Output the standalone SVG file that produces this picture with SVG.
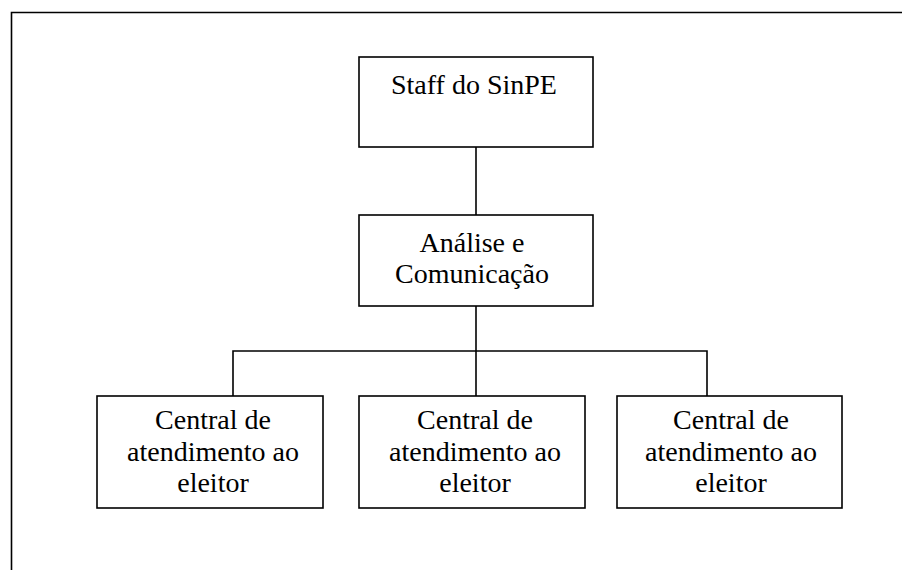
<svg xmlns="http://www.w3.org/2000/svg" width="902" height="570" viewBox="0 0 902 570">
<style>
.box{fill:#fff;stroke:#000;stroke-width:1.6}
.ln{fill:none;stroke:#000;stroke-width:1.6}
.t{font-family:"Liberation Serif","Times New Roman",serif;font-size:28px;fill:#000;text-anchor:middle}
</style>
<rect width="902" height="570" fill="#fff"/>
<path class="ln" d="M11.5 580 V12.5 H912"/>
<g id="connectors">
<path class="ln" d="M476 147 V215"/>
<path class="ln" d="M476 306 V396"/>
<path class="ln" d="M233 396 V351 H707 V396"/>
</g>
<g id="staff">
<rect class="box" x="359" y="57" width="234" height="90"/>
<text class="t" x="474" y="94">Staff do SinPE</text>
</g>
<g id="analise">
<rect class="box" x="359" y="215" width="234" height="91"/>
<text class="t" x="472" y="252">Análise e</text>
<text class="t" x="472" y="283">Comunicação</text>
</g>
<g id="central1">
<rect class="box" x="97" y="396" width="226" height="112"/>
<text class="t" x="213" y="429">Central de</text>
<text class="t" x="213" y="461">atendimento ao</text>
<text class="t" x="213" y="492">eleitor</text>
</g>
<g id="central2">
<rect class="box" x="359" y="396" width="226" height="112"/>
<text class="t" x="475" y="429">Central de</text>
<text class="t" x="475" y="461">atendimento ao</text>
<text class="t" x="475" y="492">eleitor</text>
</g>
<g id="central3">
<rect class="box" x="617" y="396" width="225" height="112"/>
<text class="t" x="731" y="429">Central de</text>
<text class="t" x="731" y="461">atendimento ao</text>
<text class="t" x="731" y="492">eleitor</text>
</g>
</svg>
